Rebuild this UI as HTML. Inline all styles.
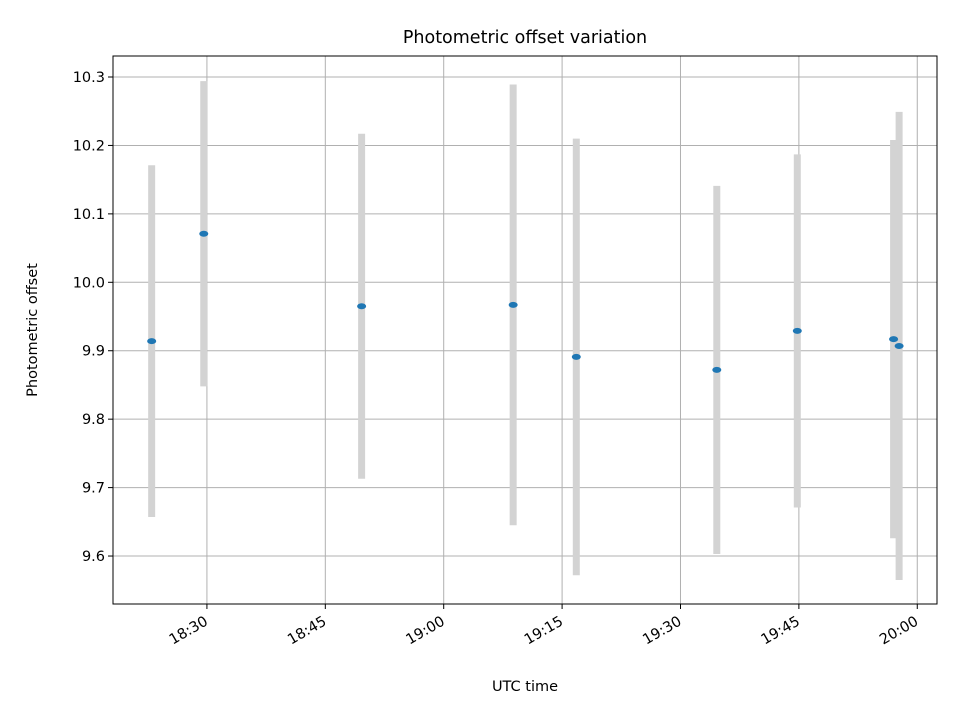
<!DOCTYPE html>
<html><head><meta charset="utf-8"><style>body{margin:0;background:#fff}svg{display:block}text{font-family:"DejaVu Sans","Liberation Sans",sans-serif;fill:#000}</style></head>
<body>
<svg id="chart" width="960" height="720" xmlns="http://www.w3.org/2000/svg"></svg>
<script>
const times = ["18:23.0","18:29.6","18:49.6","19:08.8","19:16.8","19:34.6","19:44.8","19:57.0","19:57.7"];
const offsets = [9.914,10.071,9.965,9.967,9.891,9.872,9.929,9.917,9.907];
const errors = [0.257,0.223,0.252,0.322,0.319,0.269,0.258,0.291,0.342];
const xTicks = ["18:30","18:45","19:00","19:15","19:30","19:45","20:00"];
const yTicks = [9.6,9.7,9.8,9.9,10.0,10.1,10.2,10.3];

const L=113,R=937,T=56,B=604;
function toMin(s){const [h,m]=s.split(":");return (+h)*60+parseFloat(m);}
const xmin=toMin("18:18.1"), xmax=toMin("20:02.5");
const ymin=9.5299, ymax=10.3307;
const X=v=>L+(toMin(v)-xmin)/(xmax-xmin)*(R-L);
const Y=v=>B-(v-ymin)/(ymax-ymin)*(B-T);
const svg=document.getElementById('chart');
const NS="http://www.w3.org/2000/svg";
function mk(tag,attrs,parent){const e=document.createElementNS(NS,tag);for(const k in attrs)e.setAttribute(k,attrs[k]);(parent||svg).appendChild(e);return e;}

const grid=mk('g',{});


xTicks.forEach(t=>{const x=X(t);
 const l=mk('line',{x1:x,x2:x,y1:T,y2:B,stroke:'#b0b0b0','stroke-width':1},grid);
 
 mk('line',{x1:x,x2:x,y1:B,y2:B+5,stroke:'#000'});
 const tx=mk('text',{x:x+2,y:B+20,'font-size':14.5,'text-anchor':'end',transform:`rotate(-30 ${x+2} ${B+20})`});
 tx.textContent=t;
});
yTicks.forEach(v=>{const y=Y(v);
 const l=mk('line',{x1:L,x2:R,y1:y,y2:y,stroke:'#b0b0b0','stroke-width':1},grid);
 
 mk('line',{x1:L-5,x2:L,y1:y,y2:y,stroke:'#000'});
 const tx=mk('text',{x:L-8,y:y+5,'font-size':14.5,'text-anchor':'end'});
 tx.textContent=v.toFixed(1);
});
const bars=mk('g',{});

times.forEach((t,i)=>{const x=X(t);
 const r=mk('line',{x1:x,x2:x,y1:Y(offsets[i]+errors[i]),y2:Y(offsets[i]-errors[i]),stroke:'#d3d3d3','stroke-width':7},bars);
 
});
times.forEach((t,i)=>{
 const p=mk('ellipse',{cx:X(t),cy:Y(offsets[i]),rx:4.5,ry:3,fill:'#1f77b4'});
 
});
const frame=mk('rect',{x:L,y:T,width:R-L,height:B-T,fill:'none',stroke:'#000','stroke-width':1});

const title=mk('text',{x:(L+R)/2,y:43,'font-size':17.5,'text-anchor':'middle'});title.textContent='Photometric offset variation';

const xt=mk('text',{x:(L+R)/2,y:691,'font-size':14.5,'text-anchor':'middle'});xt.textContent='UTC time';

const yt=mk('text',{x:37,y:(T+B)/2,'font-size':14.5,'text-anchor':'middle',transform:`rotate(-90 37 ${(T+B)/2})`});yt.textContent='Photometric offset';

</script>
</body></html>
